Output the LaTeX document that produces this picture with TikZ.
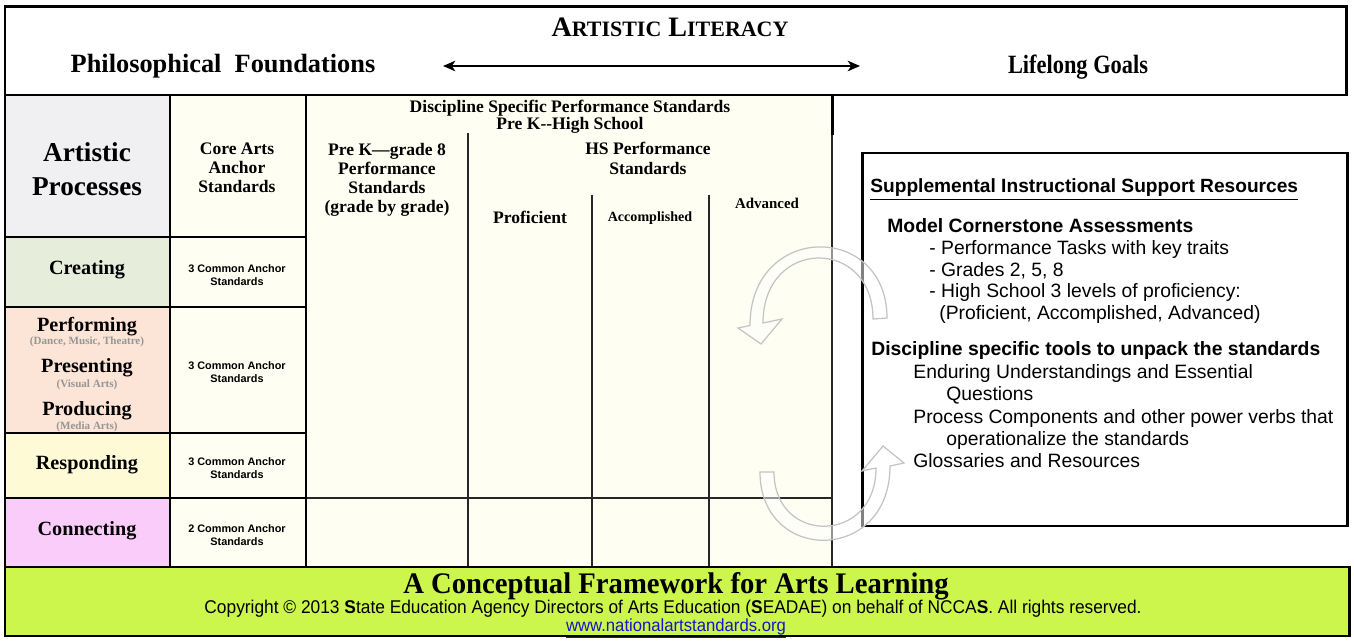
\documentclass[tikz,border=0pt]{standalone}
\usepackage{fontspec}
\usepackage{graphicx}
\setmainfont{Liberation Serif}
\setsansfont{Liberation Sans}
\usetikzlibrary{arrows.meta}
\definecolor{hdrgray}{RGB}{240,240,242}
\definecolor{creatc}{RGB}{230,238,219}
\definecolor{perfc}{RGB}{252,229,214}
\definecolor{respc}{RGB}{255,250,214}
\definecolor{connc}{RGB}{250,204,250}
\definecolor{ivory}{RGB}{254,254,242}
\definecolor{greenc}{RGB}{205,246,77}
\definecolor{subgray}{RGB}{150,150,150}
\definecolor{urlblue}{RGB}{20,20,200}
\definecolor{arrowgray}{RGB}{195,195,195}
\newcommand{\fs}[2]{\fontsize{#1}{#2}\selectfont}
\begin{document}
\begin{tikzpicture}[x=0.02cm,y=-0.02cm,
  thick border/.style={line width=1.7pt,draw=black},
  thin rule/.style={line width=0.75pt,draw=black!85},
  txt/.style={inner sep=0pt,anchor=base},
  ctxt/.style={inner sep=0pt,anchor=north,align=center},
  rowlab/.style={txt,font=\bfseries\fs{11.5}{12}},
  sublab/.style={txt,font=\bfseries\fs{6.3}{7},text=subgray},
  anch/.style={ctxt,font=\sffamily\bfseries\fs{6.2}{7.4}},
  sup/.style={inner sep=0pt,anchor=base west,font=\sffamily\fs{11}{12}},
  supb/.style={sup,font=\sffamily\bfseries\fs{11}{12}},
  arrowshape/.style={draw=arrowgray,line width=0.7pt,fill=white,fill opacity=0.5}]
\useasboundingbox (0,0) rectangle (1354,641);
\fill[white] (0,0) rectangle (1354,641);
% fills
\fill[hdrgray] (5,95) rectangle (170,237);
\fill[creatc] (5,237) rectangle (170,307);
\fill[perfc] (5,307) rectangle (170,433);
\fill[respc] (5,433) rectangle (170,498);
\fill[connc] (5,498) rectangle (170,567);
\fill[ivory] (170,95) rectangle (832,567);
\fill[greenc] (5,567) rectangle (1349,636);
% thin rules
\draw[thin rule] (468,133) -- (468,567);
\draw[thin rule] (592,195) -- (592,567);
\draw[thin rule] (709,195) -- (709,567);
\draw[thin rule] (832,135) -- (832,567);
\draw[thin rule] (306,498) -- (832,498);
% thick borders
\draw[thick border] (5,7) rectangle (1346,95);
\draw[thick border] (5,95) -- (5,567);
\draw[thick border] (170,95) -- (170,567);
\draw[thick border] (306,95) -- (306,567);
\draw[thick border] (5,237) -- (306,237);
\draw[thick border] (5,307) -- (306,307);
\draw[thick border] (5,433) -- (306,433);
\draw[thick border] (5,498) -- (306,498);
\draw[thick border] (832,95) -- (832,135);
\draw[thick border] (5,567) rectangle (1349,636);
\draw[thick border] (862,153) rectangle (1347,526);
% double arrow
\coordinate (arrL) at (443,66);
\coordinate (arrR) at (860,66);
\draw[line width=1.1pt,{Stealth[length=7pt,width=6pt,inset=2pt]}-{Stealth[length=7pt,width=6pt,inset=2pt]}] (arrL) -- (arrR);
% curved arrows
\draw[arrowshape] (887,318) .. controls (887,222) and (750,222) .. (750,325.5) -- (738,328) -- (761,344) -- (782,319) -- (763,323) .. controls (763,237) and (873,237) .. (873,319) -- cycle;
\draw[arrowshape] (774,472) .. controls (774,545) and (876,545) .. (876,468) -- (862,471) -- (883,446) -- (904,463) -- (890,466) .. controls (890,564) and (760,564) .. (760,472) -- cycle;
% top box texts
\node[txt,font=\bfseries\fs{16}{18}] (lit) at (670,37) {A{\fs{12.5}{14}RTISTIC} L{\fs{12.5}{14}ITERACY}};
\node[txt,font=\bfseries\fs{15}{18}] (phil) at (223,73) {Philosophical\ \ Foundations};
\node[txt,font=\bfseries\fs{15}{18}] (life) at (1078,74) {\scalebox{0.85}[1]{Lifelong Goals}};
% header texts
\node[ctxt,font=\bfseries\fs{15.5}{19.3}] (ap) at (87,142) {Artistic\\Processes};
\node[ctxt,font=\bfseries\fs{10}{10.8}] (core) at (237,143) {Core Arts\\Anchor\\Standards};
\node[ctxt,font=\bfseries\fs{10}{10.8}] (prek) at (387,143) {Pre K—grade 8\\Performance\\Standards\\(grade by grade)};
\node[txt,font=\bfseries\fs{10}{10}] (dsps) at (570,113) {Discipline Specific Performance Standards};
\node[txt,font=\bfseries\fs{10}{10}] (pkhs) at (570,130) {Pre K-{}-High School};
\node[ctxt,font=\bfseries\fs{10}{11.5}] (hsps) at (648,142) {HS Performance\\Standards};
\node[txt,font=\bfseries\fs{10}{11}] (prof) at (530,224) {Proficient};
\node[txt,font=\bfseries\fs{8}{9}] (acc) at (650,222) {Accomplished};
\node[txt,font=\bfseries\fs{8.5}{9}] (adv) at (767,209) {Advanced};
% row labels
\node[rowlab] (cre) at (87,275) {Creating};
\node[rowlab] (perf) at (87,332) {Performing};
\node[sublab] (perfs) at (87,345) {(Dance, Music, Theatre)};
\node[rowlab] (pres) at (87,373) {Presenting};
\node[sublab] (press) at (87,387) {(Visual Arts)};
\node[rowlab] (prod) at (87,415) {Producing};
\node[sublab] (prods) at (87,429) {(Media Arts)};
\node[rowlab] (resp) at (87,469) {Responding};
\node[rowlab] (conn) at (87,535) {Connecting};
% anchor standards
\node[anch] (a1) at (237,264) {3 Common Anchor\\Standards};
\node[anch] (a2) at (237,361) {3 Common Anchor\\Standards};
\node[anch] (a3) at (237,457) {3 Common Anchor\\Standards};
\node[anch] (a4) at (237,524) {2 Common Anchor\\Standards};
% supplemental
\node[supb,font=\sffamily\bfseries\fs{10.9}{12}] (s0) at (870,193) {\underline{Supplemental Instructional Support Resources}};
\node[supb] (s1) at (887,233) {Model Cornerstone Assessments};
\node[sup] (s2) at (929,255) {- Performance Tasks with key traits};
\node[sup] (s3) at (929,277) {- Grades 2, 5, 8};
\node[sup] (s4) at (929,298) {- High School 3 levels of proficiency:};
\node[sup] (s5) at (939,320) {(Proficient, Accomplished, Advanced)};
\node[supb] (s6) at (871,356) {Discipline specific tools to unpack the standards};
\node[sup] (s7) at (913,378) {Enduring Understandings and Essential};
\node[sup] (s8) at (946,400) {Questions};
\node[sup] (s9) at (913,423) {Process Components and other power verbs that};
\node[sup] (s10) at (946,445) {operationalize the standards};
\node[sup] (s11) at (913,467) {Glossaries and Resources};
% footer
\node[txt,font=\bfseries\fs{17}{18}] (cfal) at (676,593) {\scalebox{0.96}[1]{A Conceptual Framework for Arts Learning}};
\node[txt,font=\sffamily\fs{10.5}{11}] (copy) at (673,613) {\scalebox{0.94}[1]{Copyright © 2013 \textbf{S}tate Education Agency Directors of Arts Education (\textbf{S}EADAE) on behalf of NCCA\textbf{S}. All rights reserved.}};
\node[txt,font=\sffamily\fs{10}{11},text=urlblue] (url) at (676,631) {\scalebox{0.95}[1]{\underline{www.nationalartstandards.org}}};
\end{tikzpicture}
\end{document}
